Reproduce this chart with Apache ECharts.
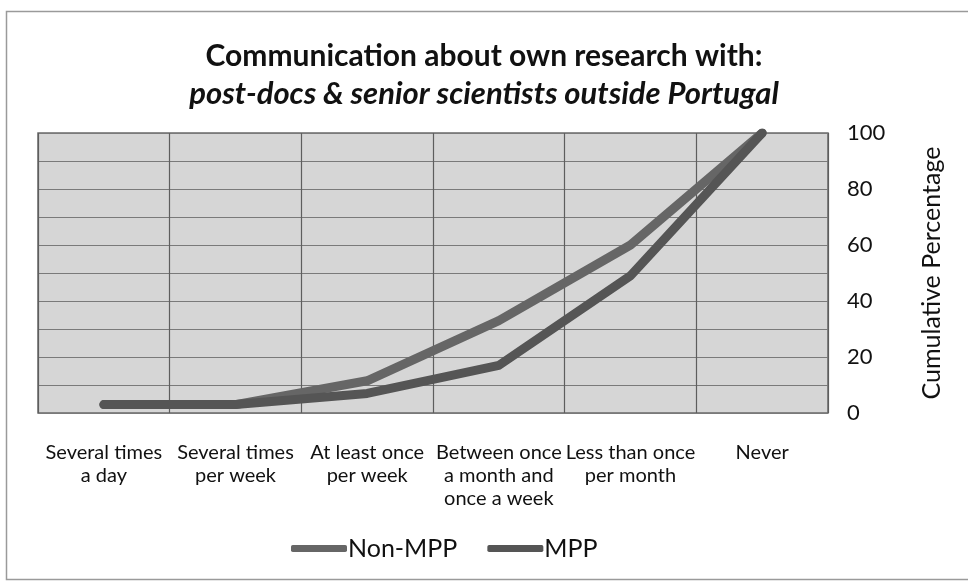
<!DOCTYPE html>
<html>
<head>
<meta charset="utf-8">
<script src="https://cdn.jsdelivr.net/npm/echarts@6/dist/echarts.min.js"></script>
<style>
  html, body { margin: 0; padding: 0; background: #fff; }
  #chart { width: 968px; height: 584px; }
</style>
</head>
<body>
<div id="chart"></div>
<script>
// Contact frequency categories (x axis)
const categories = [
  'Several times\na day',
  'Several times\nper week',
  'At least once\nper week',
  'Between once\na month and\nonce a week',
  'Less than once\nper month',
  'Never'
];

// Cumulative percentages per group
const nonMppValues = [3, 3, 11.5, 33, 60, 100];
const mppValues = [3, 3, 7, 17, 49, 100];

// Labelled y ticks
const yTickLabels = [0, 20, 40, 60, 80, 100];

const seriesNames = ['Non-MPP', 'MPP'];
const FONT = 'Lato, "Open Sans", sans-serif';

const chart = echarts.init(document.getElementById('chart'), null, { renderer: 'canvas' });

chart.setOption({
  backgroundColor: '#ffffff',
  animation: false,
  title: {
    text: 'Communication about own research with:',
    subtext: 'post-docs & senior scientists outside Portugal',
    left: 'center',
    top: 32,
    itemGap: 0,
    textStyle: { fontFamily: FONT, fontSize: 30, lineHeight: 38, fontWeight: 'bold', color: '#111' },
    subtextStyle: { fontFamily: FONT, fontSize: 31, lineHeight: 38, fontWeight: 'bold', fontStyle: 'italic', color: '#111' }
  },
  graphic: [{
    type: 'rect',
    shape: { x: 6.5, y: 11.5, width: 990, height: 568 },
    style: { fill: 'none', stroke: '#9a9a9a', lineWidth: 1.5 },
    silent: true,
    z: -1
  }],
  legend: {
    data: seriesNames,
    top: 531,
    left: 286,
    itemWidth: 56,
    itemHeight: 7,
    itemGap: 30,
    icon: 'roundRect',
    textStyle: { fontFamily: FONT, fontSize: 25, color: '#111', padding: [0, 0, 0, -4] }
  },
  grid: {
    left: 38,
    right: 140,
    top: 133,
    bottom: 171,
    show: true,
    backgroundColor: '#d6d6d6',
    borderColor: '#6a6a6a',
    borderWidth: 1.5
  },
  xAxis: {
    type: 'category',
    data: categories,
    boundaryGap: true,
    axisLine: { show: false },
    axisTick: { show: false },
    splitLine: { show: true, lineStyle: { color: '#5e5e5e', width: 1.2 } },
    axisLabel: {
      fontFamily: FONT,
      fontSize: 20,
      color: '#111',
      lineHeight: 23,
      margin: 28,
      interval: 0
    }
  },
  yAxis: {
    type: 'value',
    position: 'right',
    min: 0,
    max: 100,
    interval: 10,
    name: 'Cumulative Percentage',
    nameLocation: 'middle',
    nameGap: 91,
    nameRotate: 90,
    nameTextStyle: { fontFamily: FONT, fontSize: 25, color: '#111' },
    axisLine: { show: false },
    axisTick: { show: false },
    splitLine: { show: true, lineStyle: { color: '#7a7a7a', width: 1.2 } },
    axisLabel: {
      fontFamily: FONT,
      fontSize: 22,
      color: '#111',
      margin: 19,
      padding: [9, 0, 0, 0],
      formatter: function (v) {
        return yTickLabels.indexOf(v) >= 0 ? String(v) : '';
      }
    }
  },
  series: [
    {
      name: seriesNames[0],
      type: 'line',
      data: nonMppValues,
      symbol: 'none',
      color: '#666666',
      lineStyle: { width: 9, color: '#666666', cap: 'round', join: 'round' }
    },
    {
      name: seriesNames[1],
      type: 'line',
      data: mppValues,
      symbol: 'none',
      color: '#555555',
      lineStyle: { width: 9, color: '#555555', cap: 'round', join: 'round' }
    }
  ]
});
</script>
</body>
</html>
